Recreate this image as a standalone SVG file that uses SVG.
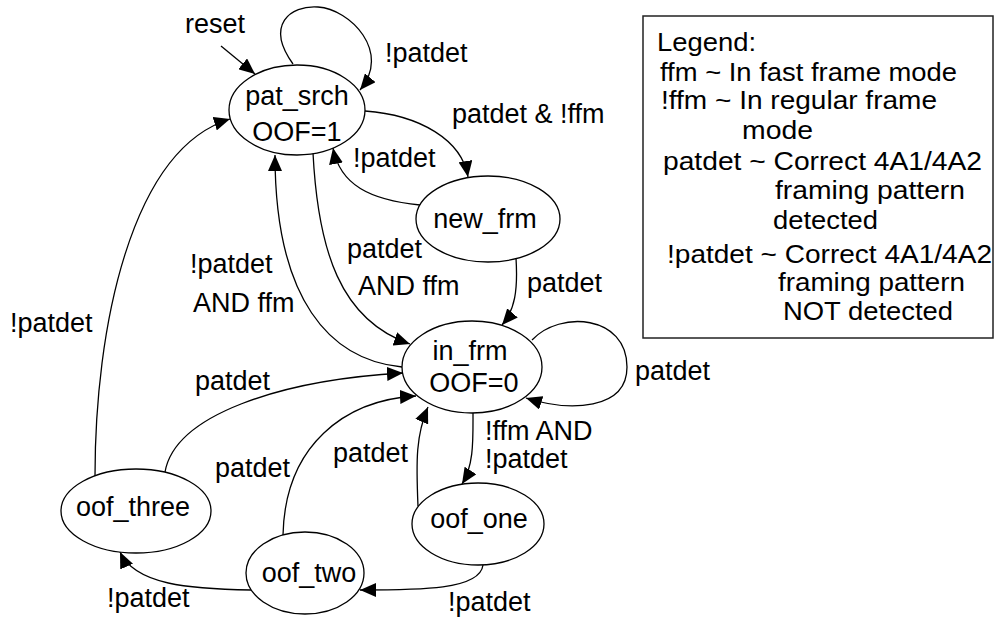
<svg xmlns="http://www.w3.org/2000/svg" width="994" height="618" viewBox="0 0 994 618">
<style>
text{font-family:"Liberation Sans",Arial,sans-serif;font-size:27px;fill:#000}
.node ellipse{fill:#fff;stroke:#000;stroke-width:1.3}
.mid{text-anchor:middle}
.edge{fill:none;stroke:#000;stroke-width:1.3;marker-end:url(#arr)}
.legend rect{fill:#fff;stroke:#222;stroke-width:1.5}
.lg{font-size:26px}
</style>
<defs>
<marker id="arr" markerUnits="userSpaceOnUse" markerWidth="16" markerHeight="14" refX="16" refY="7" orient="auto">
<path d="M0,0 L16,7 L0,14 z" fill="#000"/>
</marker>
</defs>
<rect width="994" height="618" fill="#fff"/>
<g id="connectors">
<path class="edge" d="M221,46 L255,74"/>
<path class="edge" d="M293,64 C265,25 290,5 318,7 C350,9 392,52 360,90"/>
<path class="edge" d="M365,111 C420,115 462,140 468,177"/>
<path class="edge" d="M420,205 C370,200 340,185 333,148"/>
<path class="edge" d="M313,153 C318,250 340,320 410,344"/>
<path class="edge" d="M402,367 C330,360 275,300 275,155"/>
<path class="edge" d="M516,258 C518,290 515,310 502,325"/>
<path class="edge" d="M532,340 C560,310 627,315 627,367 C627,410 570,412 526,398"/>
<path class="edge" d="M473,413 C473,440 474,465 462,484"/>
<path class="edge" d="M418,506 C416,460 416,435 428,407"/>
<path class="edge" d="M483,565 C480,590 420,590 360,590"/>
<path class="edge" d="M283,535 C285,445 345,400 416,396"/>
<path class="edge" d="M165,472 C175,415 280,380 403,373"/>
<path class="edge" d="M251,590 C190,589 135,585 120,552"/>
<path class="edge" d="M95,476 C95,330 130,150 230,119"/>
</g>
<g id="pat_srch" class="node">
<ellipse cx="297" cy="110" rx="68" ry="45"/>
<text class="mid" x="297" y="105">pat_srch</text>
<text class="mid" x="297" y="141">OOF=1</text>
</g>
<g id="new_frm" class="node">
<ellipse cx="488" cy="219" rx="72" ry="43"/>
<text class="mid" x="485" y="228">new_frm</text>
</g>
<g id="in_frm" class="node">
<ellipse cx="472" cy="367" rx="70" ry="46"/>
<text class="mid" x="470" y="360">in_frm</text>
<text class="mid" x="474" y="392">OOF=0</text>
</g>
<g id="oof_one" class="node">
<ellipse cx="478" cy="524" rx="66" ry="41"/>
<text class="mid" x="479" y="528">oof_one</text>
</g>
<g id="oof_two" class="node">
<ellipse cx="305" cy="573" rx="59" ry="41"/>
<text class="mid" x="309" y="582">oof_two</text>
</g>
<g id="oof_three" class="node">
<ellipse cx="136" cy="511" rx="75" ry="42"/>
<text class="mid" x="133" y="516">oof_three</text>
</g>
<g id="labels">
<text x="185" y="33">reset</text>
<text x="385" y="62">!patdet</text>
<text x="452" y="123">patdet &amp; !ffm</text>
<text x="353" y="167">!patdet</text>
<text x="347" y="258">patdet</text>
<text x="358" y="295">AND ffm</text>
<text x="190" y="273">!patdet</text>
<text x="193" y="312">AND ffm</text>
<text x="527" y="292">patdet</text>
<text x="635" y="380">patdet</text>
<text x="485" y="440">!ffm AND</text>
<text x="485" y="468">!patdet</text>
<text x="333" y="462">patdet</text>
<text x="448" y="611">!patdet</text>
<text x="215" y="477">patdet</text>
<text x="195" y="390">patdet</text>
<text x="107" y="607">!patdet</text>
<text x="10" y="332">!patdet</text>
</g>
<g id="legend" class="legend">
<rect x="643" y="16" width="350" height="322"/>
<text class="lg" x="657" y="51" textLength="99" lengthAdjust="spacingAndGlyphs">Legend:</text>
<text class="lg" x="660" y="81" textLength="297" lengthAdjust="spacingAndGlyphs">ffm ~ In fast frame mode</text>
<text class="lg" x="661" y="109" textLength="276" lengthAdjust="spacingAndGlyphs">!ffm ~ In regular frame</text>
<text class="lg" x="742" y="139" textLength="71" lengthAdjust="spacingAndGlyphs">mode</text>
<text class="lg" x="663" y="170" textLength="319" lengthAdjust="spacingAndGlyphs">patdet ~ Correct 4A1/4A2</text>
<text class="lg" x="775" y="199" textLength="190" lengthAdjust="spacingAndGlyphs">framing pattern</text>
<text class="lg" x="773" y="229" textLength="105" lengthAdjust="spacingAndGlyphs">detected</text>
<text class="lg" x="667" y="263" textLength="325" lengthAdjust="spacingAndGlyphs">!patdet ~ Correct 4A1/4A2</text>
<text class="lg" x="778" y="291" textLength="187" lengthAdjust="spacingAndGlyphs">framing pattern</text>
<text class="lg" x="783" y="320" textLength="170" lengthAdjust="spacingAndGlyphs">NOT detected</text>
</g>
</svg>
